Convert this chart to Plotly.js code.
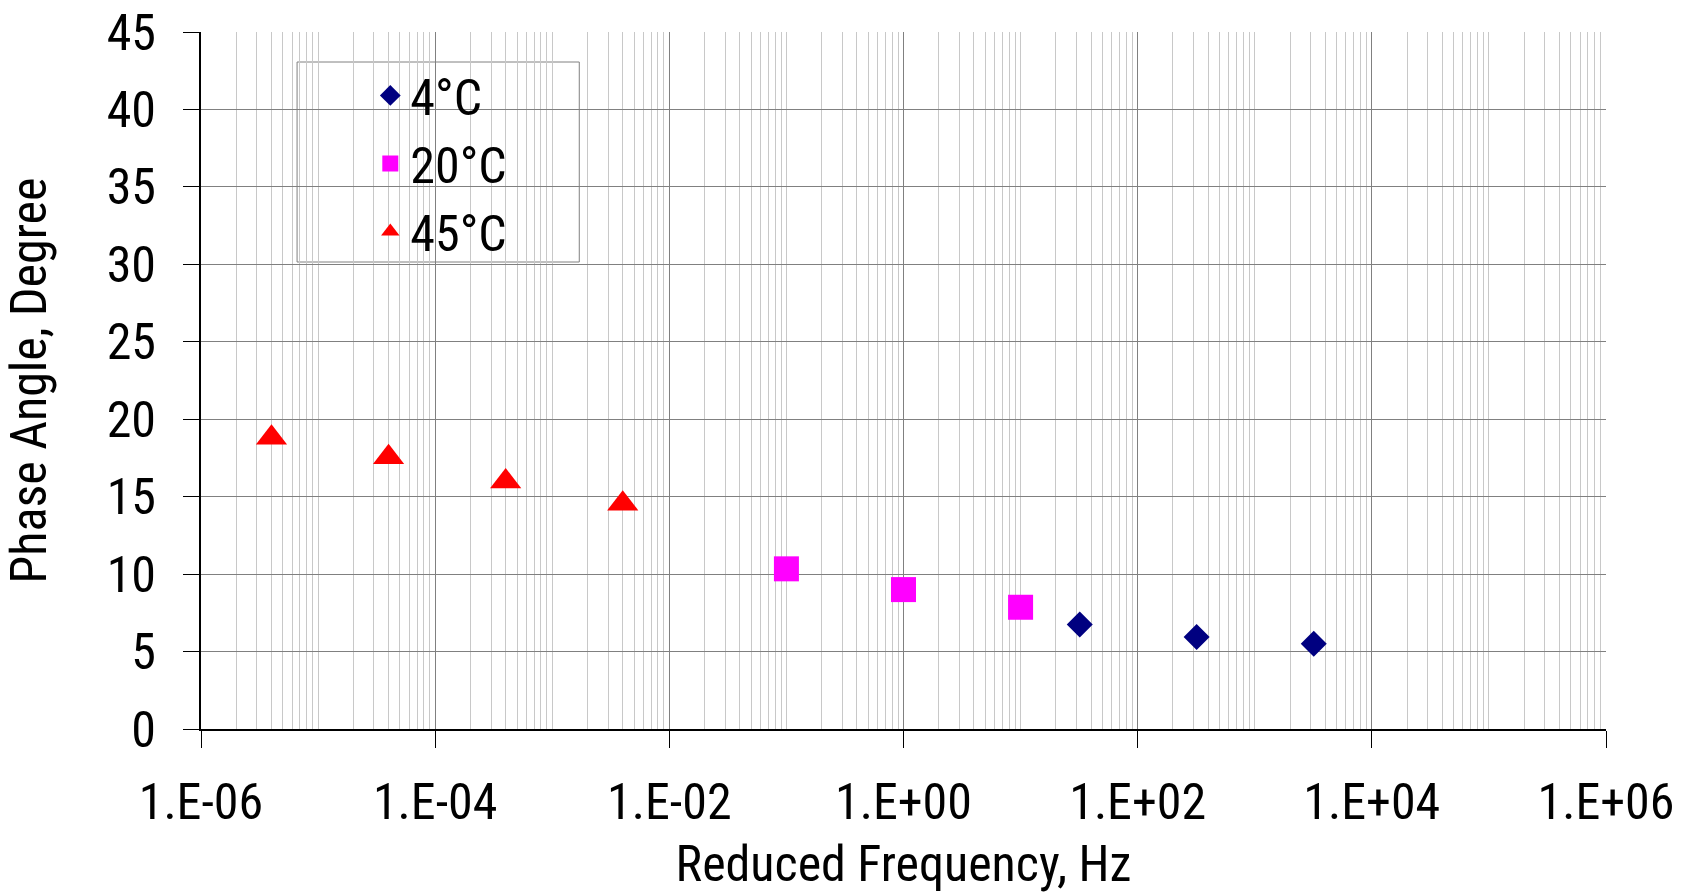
<!DOCTYPE html>
<html>
<head>
<meta charset="utf-8">
<script src="https://cdn.plot.ly/plotly-3.0.1.min.js"></script>
<style>
html,body{margin:0;padding:0;background:#fff;}
#chart{width:1686px;height:893px;}
svg text{font-stretch:condensed !important;}
</style>
</head>
<body>
<div id="chart"></div>
<script>
// Data
const freq4C  = [32, 319, 3190];
const phase4C = [6.75, 5.94, 5.50];
const freq20C  = [0.1, 1.0, 10];
const phase20C = [10.34, 9.0, 7.86];
const freq45C  = [4.0e-6, 4.0e-5, 4.0e-4, 4.0e-3];
const phase45C = [18.8, 17.54, 15.98, 14.55];
const xTickVals = [1e-6, 1e-4, 1e-2, 1e0, 1e2, 1e4, 1e6];
const xTickText = ["1.E-06", "1.E-04", "1.E-02", "1.E+00", "1.E+02", "1.E+04", "1.E+06"];

const FONT = "Roboto, 'Open Sans', sans-serif";
const FS = 50;

const traces = [
  {x: freq4C, y: phase4C, name: "4°C", mode: "markers", type: "scatter",
   marker: {symbol: "diamond", size: 20, color: "#000080"}},
  {x: freq20C, y: phase20C, name: "20°C", mode: "markers", type: "scatter",
   marker: {symbol: "square", size: 25, color: "#ff00ff"}},
  {x: freq45C, y: phase45C, name: "45°C", mode: "markers", type: "scatter",
   marker: {symbol: "triangle-up", size: 27, color: "#ff0000"}}
];

const layout = {
  width: 1686, height: 893,
  margin: {l: 201, r: 80, t: 32, b: 164},
  paper_bgcolor: "#ffffff", plot_bgcolor: "#ffffff",
  font: {family: FONT, size: FS, color: "#000000"},
  showlegend: true,
  legend: {x: 0.1205, y: 0.965, xanchor: "left", yanchor: "top",
           bgcolor: "rgba(0,0,0,0)", borderwidth: 0, tracegroupgap: 0,
           font: {family: FONT, size: FS, color: "#000"}, itemsizing: "trace"},
  shapes: [{type: "rect", xref: "paper", yref: "paper", layer: "between",
            x0: (297-201)/1404, x1: (579-201)/1404, y0: (729-262)/697, y1: (729-62)/697,
            fillcolor: "#ffffff", line: {color: "#808080", width: 1}}],
  xaxis: {
    type: "log", range: [-6, 6],
    tickmode: "array", tickvals: xTickVals, ticktext: xTickText,
    ticks: "outside", ticklen: 17, tickwidth: 1, tickcolor: "#000",
    ticklabelstandoff: 11, ticklabeloverflow: "allow",
    showgrid: true, gridcolor: "#808080", gridwidth: 1,
    minor: {dtick: "D1", showgrid: true, gridcolor: "#c8c8c8", gridwidth: 1, ticks: ""},
    showline: true, linecolor: "#000", linewidth: 2, mirror: false,
    zeroline: false,
    tickfont: {family: FONT, size: FS},
    title: {text: "Reduced Frequency, Hz", font: {family: FONT, size: FS}, standoff: 28}
  },
  yaxis: {
    range: [0, 45], dtick: 5, tick0: 0,
    ticks: "outside", ticklen: 16, tickwidth: 1, tickcolor: "#000",
    ticklabelstandoff: 17,
    showgrid: true, gridcolor: "#808080", gridwidth: 1,
    showline: true, linecolor: "#000", linewidth: 2, mirror: false,
    zeroline: false,
    tickfont: {family: FONT, size: FS},
    title: {text: "Phase Angle, Degree", font: {family: FONT, size: FS}, standoff: 44}
  }
};

Plotly.newPlot("chart", traces, layout, {displayModeBar: false, staticPlot: true});
</script>
</body>
</html>
